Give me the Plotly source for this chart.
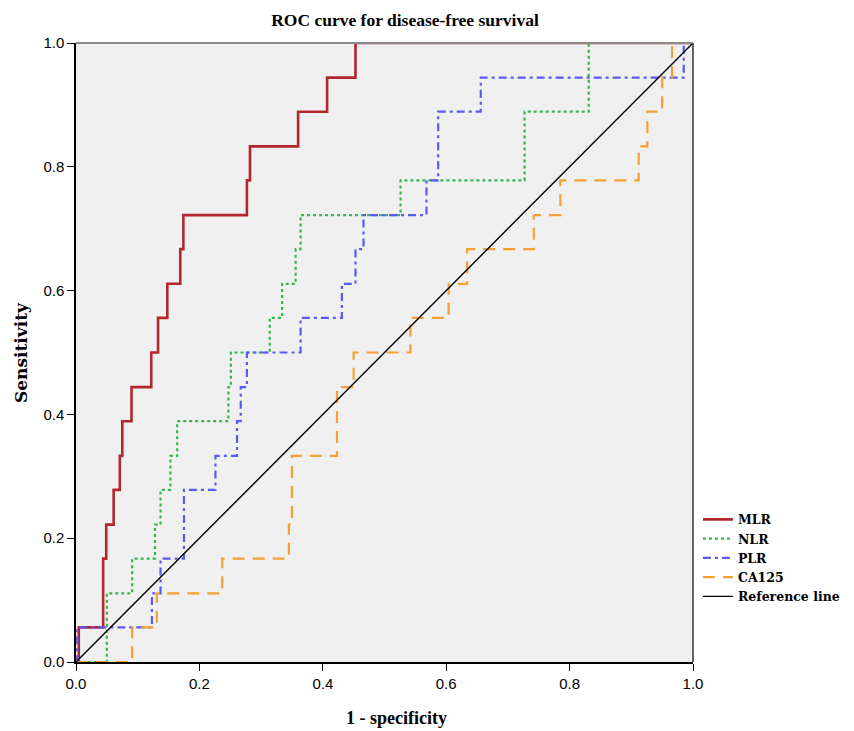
import plotly.graph_objects as go

# ROC step curves: corner points (1 - specificity, sensitivity), drawn with hv steps
mlr_fpr = [0, 0.0045, 0.044, 0.049, 0.061, 0.071, 0.075, 0.09, 0.122, 0.133, 0.148, 0.169, 0.174, 0.277, 0.282, 0.36, 0.407, 0.453, 1.0]
mlr_tpr = [0, 0.056, 0.167, 0.222, 0.278, 0.333, 0.389, 0.444, 0.5, 0.556, 0.611, 0.667, 0.722, 0.778, 0.833, 0.889, 0.944, 1.0, 1.0]

nlr_fpr = [0, 0.05, 0.091, 0.128, 0.137, 0.153, 0.164, 0.247, 0.251, 0.314, 0.334, 0.356, 0.364, 0.526, 0.727, 0.831, 1.0]
nlr_tpr = [0, 0.111, 0.167, 0.222, 0.278, 0.333, 0.389, 0.444, 0.5, 0.556, 0.611, 0.667, 0.722, 0.778, 0.889, 1.0, 1.0]

plr_fpr = [0, 0.002, 0.123, 0.137, 0.175, 0.226, 0.261, 0.267, 0.277, 0.364, 0.431, 0.453, 0.466, 0.568, 0.587, 0.656, 0.985, 1.0]
plr_tpr = [0, 0.056, 0.111, 0.167, 0.278, 0.333, 0.389, 0.444, 0.5, 0.556, 0.611, 0.667, 0.722, 0.778, 0.889, 0.944, 1.0, 1.0]

ca125_fpr = [0, 0.091, 0.131, 0.237, 0.345, 0.35, 0.423, 0.45, 0.542, 0.604, 0.634, 0.742, 0.785, 0.912, 0.926, 0.95, 0.966, 1.0]
ca125_tpr = [0, 0.056, 0.111, 0.167, 0.222, 0.333, 0.444, 0.5, 0.556, 0.611, 0.667, 0.722, 0.778, 0.833, 0.889, 0.944, 1.0, 1.0]

ref_x = [0, 1]
ref_y = [0, 1]

tick_vals = [0.0, 0.2, 0.4, 0.6, 0.8, 1.0]
tick_text = ["0.0", "0.2", "0.4", "0.6", "0.8", "1.0"]

# page body has an 8px default margin, so the figure is laid out 8px smaller
W, H = 846, 723
L, R, T, B = 67.5, 161.3, 35, 69
PW = W - L - R
PH = H - T - B

fig = go.Figure()
fig.add_trace(go.Scatter(x=mlr_fpr, y=mlr_tpr, mode="lines", name="MLR", line_shape="hv",
                         line=dict(color="#B3262B", width=2.6)))
fig.add_trace(go.Scatter(x=nlr_fpr, y=nlr_tpr, mode="lines", name="NLR", line_shape="hv",
                         line=dict(color="#33B84A", width=2.2, dash="3px,3px")))
fig.add_trace(go.Scatter(x=plr_fpr, y=plr_tpr, mode="lines", name="PLR", line_shape="hv",
                         line=dict(color="#5A5AF2", width=2.2, dash="8px,4px,3px,4px")))
fig.add_trace(go.Scatter(x=ca125_fpr, y=ca125_tpr, mode="lines", name="CA125", line_shape="hv",
                         line=dict(color="#F5A030", width=2.2, dash="12px,8px")))
fig.add_trace(go.Scatter(x=ref_x, y=ref_y, mode="lines", name="Reference line",
                         line=dict(color="black", width=1.4)))

fig.update_layout(
    width=W, height=H,
    margin=dict(l=L, r=R, t=T, b=B, autoexpand=False),
    paper_bgcolor="white",
    plot_bgcolor="#F0F0F0",
    title=dict(text="<b>ROC curve for disease-free survival</b>", x=(405 - 8) / W, xanchor="center",
               y=1 - 12 / H, yanchor="middle",
               font=dict(family="Liberation Serif", size=17.5, color="black")),
    legend=dict(x=1.008, y=0.254, xanchor="left", yanchor="top",
                font=dict(family="DejaVu Serif", size=12.5, color="black", weight="bold"),
                bgcolor="rgba(0,0,0,0)", itemwidth=30, tracegroupgap=0),
    showlegend=True,
)
fig.update_xaxes(range=[0, 1], tickvals=tick_vals, ticktext=tick_text, showgrid=False, zeroline=False,
                 showline=True, linecolor="black", linewidth=1.5, ticks="outside", ticklen=7,
                 tickcolor="black", tickfont=dict(family="Liberation Sans", size=15, color="black"),
                 automargin=False)
fig.update_yaxes(range=[0, 1], tickvals=tick_vals, ticktext=tick_text, showgrid=False, zeroline=False,
                 showline=True, linecolor="black", linewidth=1.5, ticks="outside", ticklen=7,
                 tickcolor="black", tickfont=dict(family="Liberation Sans", size=15, color="black"),
                 automargin=False)

# axis titles
fig.add_annotation(text="<b>1 - specificity</b>", xref="paper", yref="paper",
                   x=(388 - L) / PW, y=0, yshift=-(710 - (T + PH)), xanchor="center", yanchor="middle",
                   showarrow=False, font=dict(family="Liberation Serif", size=18, color="black"))
fig.add_annotation(text="<b>Sensitivity</b>", xref="paper", yref="paper",
                   x=0, xshift=-(L - 12), y=0.5, xanchor="center", yanchor="middle", textangle=-90,
                   showarrow=False, font=dict(family="DejaVu Serif", size=17, color="black"))

# frame: top (grey) and right (dark) borders
fig.add_shape(type="line", xref="paper", yref="paper", x0=0, x1=1, y0=1, y1=1,
              line=dict(color="#8A8A8A", width=2))
fig.add_shape(type="line", xref="paper", yref="paper", x0=1, x1=1, y0=0, y1=1,
              line=dict(color="#333333", width=1.5))

fig.write_html("out.html")
